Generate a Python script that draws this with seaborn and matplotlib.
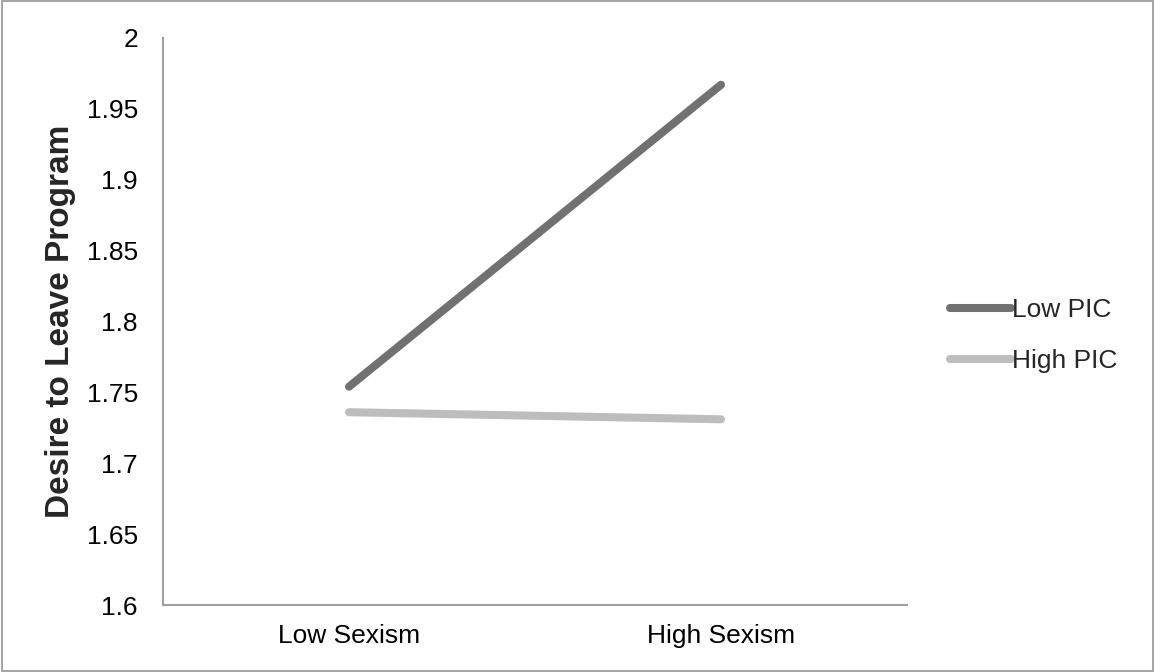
import seaborn as sns
import pandas as pd
import matplotlib.pyplot as plt
from matplotlib.patches import Rectangle

sexism = ["Low Sexism", "High Sexism"]
groups = ["Low PIC", "High PIC"]
low_pic = [1.754, 1.967]
high_pic = [1.736, 1.731]
yticks = [1.6, 1.65, 1.7, 1.75, 1.8, 1.85, 1.9, 1.95, 2]
colors = ["#717171", "#bdbdbd"]


def main():
    sns.set_style("white")
    plt.rcParams['font.family'] = ['Liberation Sans', 'DejaVu Sans']

    data = pd.DataFrame({
        "Sexism": sexism * 2,
        "PIC": [groups[0]] * 2 + [groups[1]] * 2,
        "Desire": low_pic + high_pic,
    })

    fig = plt.figure(figsize=(11.55, 6.72), dpi=100)
    ax = fig.add_axes([0.1411, 0.0997, 0.6442, 0.8438])
    sns.lineplot(data=data, x="Sexism", y="Desire", hue="PIC", palette=colors,
                 linewidth=5.8, ax=ax, legend=False, sort=False)
    for l in ax.lines:
        l.set_solid_capstyle("round")

    ax.set_xlim(-0.5, 1.5)
    ax.set_ylim(1.6, 2)
    ax.set_yticks(yticks)
    ax.set_yticklabels([f"{t:g}" for t in yticks])
    ax.tick_params(axis="both", length=0, labelsize=19, colors="black")
    ax.tick_params(axis="y", pad=18)
    ax.tick_params(axis="x", pad=14)
    sns.despine(ax=ax)
    for s in ["left", "bottom"]:
        ax.spines[s].set_color("#a0a0a0")
        ax.spines[s].set_linewidth(1.5)
    ax.set_xlabel("")
    ax.set_ylabel("Desire to Leave Program", fontsize=24, fontweight="bold", labelpad=8)

    ax.legend(ax.lines, groups, loc="center left", bbox_to_anchor=(0.8225, 0.5007),
              bbox_transform=fig.transFigure, frameon=False, fontsize=19,
              handlelength=2.3, handletextpad=0.05, labelspacing=1.02,
              borderpad=0, borderaxespad=0)

    fig.patches.append(Rectangle((0.002, 0.002), 0.996, 0.996, transform=fig.transFigure,
                                 fill=False, edgecolor="#a6a6a6", linewidth=1.5))

    plt.savefig("out.png", dpi=100)


if __name__ == "__main__":
    main()
